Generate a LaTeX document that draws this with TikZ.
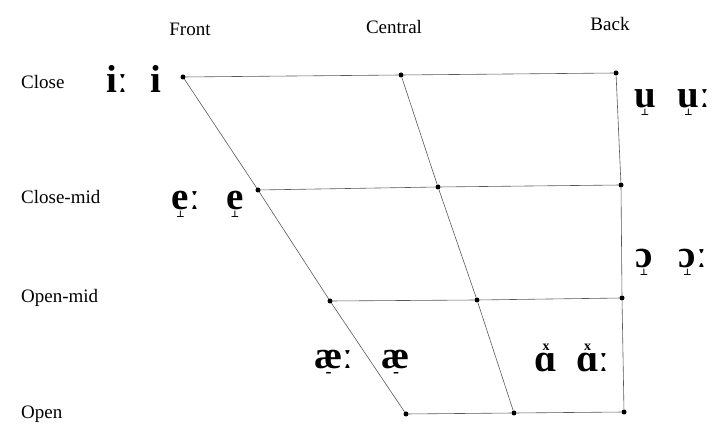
\documentclass[tikz,border=0pt]{standalone}
\usepackage{fontspec}
\setmainfont{Liberation Serif}
\newfontfamily\markfont{DejaVu Sans}
\usepackage{tikz}
\usetikzlibrary{positioning}

% diacritics placed centred below / above a letter
\newcommand{\lowmark}[2]{\ooalign{#1\cr\hidewidth\raisebox{-8pt}{\markfont\bfseries\fontsize{9}{9}\selectfont #2}\hidewidth\cr}}
\newcommand{\highmark}[2]{\ooalign{#1\cr\hidewidth\raisebox{21pt}{\bfseries\fontsize{14}{14}\selectfont #2}\hidewidth\cr}}

\begin{document}
\begin{tikzpicture}[
    x=1pt,
    y=-1pt,
    dot/.style={
        circle,
        fill=black,
        inner sep=0pt,
        minimum size=5pt
    },
    grid/.style={
        draw=black!65,
        line width=0.6pt
    },
    axislabel/.style={
        font=\fontsize{19}{22}\selectfont,
        inner sep=0pt
    },
    rowlabel/.style={
        font=\fontsize{19}{22}\selectfont,
        inner sep=0pt,
        anchor=west
    },
    vowel/.style={
        font=\fontsize{39}{44}\selectfont\bfseries,
        inner sep=0pt,
        anchor=base
    }
]

\useasboundingbox (0,0) rectangle (713,427);

% Column headings
\node[axislabel] (front) at (190,29) {Front};
\node[axislabel] (central) at (394,27) {Central};
\node[axislabel] (back) at (610,24) {Back};

% Row headings
\node[rowlabel] (close) at (21,82) {Close};
\node[rowlabel] (closemid) at (21,197) {Close-mid};
\node[rowlabel] (openmid) at (21,298) {Open-mid};
\node[rowlabel] (open) at (21,414) {Open};

% Grid points
\node[dot] (closeF) at (183,77) {};
\node[dot] (closeC) at (401,75) {};
\node[dot] (closeB) at (616,73) {};

\node[dot] (closemidF) at (258,190) {};
\node[dot] (closemidC) at (438,187) {};
\node[dot] (closemidB) at (621,185) {};

\node[dot] (openmidF) at (330,301) {};
\node[dot] (openmidC) at (477,300) {};
\node[dot] (openmidB) at (622,298) {};

\node[dot] (openF) at (406,414) {};
\node[dot] (openC) at (514,413) {};
\node[dot] (openB) at (624,412) {};

% Horizontal lines
\draw[grid] (closeF) -- (closeC) -- (closeB);
\draw[grid] (closemidF) -- (closemidC) -- (closemidB);
\draw[grid] (openmidF) -- (openmidC) -- (openmidB);
\draw[grid] (openF) -- (openC) -- (openB);

% Slanted and vertical lines
\draw[grid] (closeF) -- (closemidF) -- (openmidF) -- (openF);
\draw[grid] (closeC) -- (closemidC) -- (openmidC) -- (openC);
\draw[grid] (closeB) -- (closemidB) -- (openmidB) -- (openB);

% Vowels
\node[vowel] (iLong) at (117,93) {iː};
\node[vowel] (iShort) at (156,93) {i};

\node[vowel] (eLong) at (186,210) {\lowmark{e}{⊥}ː};
\node[vowel] (eShort) at (235,210) {\lowmark{e}{⊥}};

\node[vowel] (uShort) at (645,108) {\lowmark{u}{⊥}};
\node[vowel] (uLong) at (694,108) {\lowmark{u}{⊥}ː};

\node[vowel] (oShort) at (644,268) {\lowmark{ɔ}{⊥}};
\node[vowel] (oLong) at (693,268) {\lowmark{ɔ}{⊥}ː};

\node[vowel] (aeLong) at (334,369) {\lowmark{æ}{\fontsize{12}{12}\selectfont –}ː};
\node[vowel] (aeShort) at (396,369) {\lowmark{æ}{\fontsize{12}{12}\selectfont –}};

\node[vowel] (aShort) at (546,372) {\highmark{ɑ}{x}};
\node[vowel] (aLong) at (593,372) {\highmark{ɑ}{x}ː};

\end{tikzpicture}
\end{document}
